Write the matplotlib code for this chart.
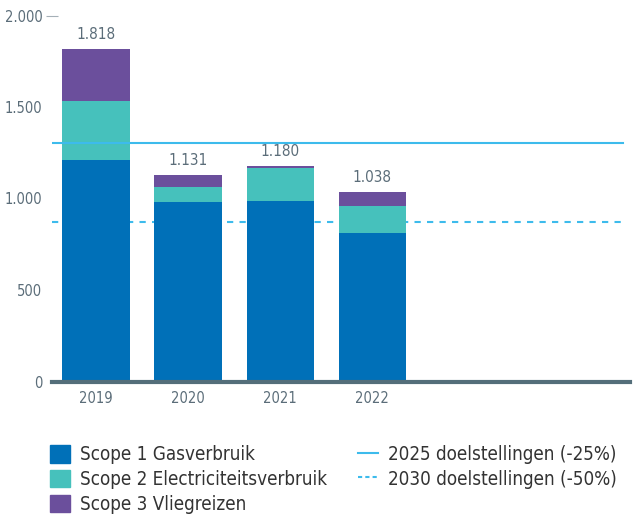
import matplotlib
matplotlib.use("Agg")
import matplotlib.pyplot as plt
import numpy as np
from matplotlib.patches import Patch
from matplotlib.lines import Line2D
from matplotlib.ticker import FuncFormatter

# values (ton CO2)
years = ["2019", "2020", "2021", "2022"]
scope1 = [1210, 981, 986, 811]
scope2 = [323, 82, 180, 148]
scope3 = [285, 68, 14, 79]
totals = [1818, 1131, 1180, 1038]
target_2025 = 1305
target_2030 = 870
series_names = ["Scope 1 Gasverbruik", "Scope 2 Electriciteitsverbruik", "Scope 3 Vliegreizen"]
target_names = ["2025 doelstellingen (-25%)", "2030 doelstellingen (-50%)"]

c_s1 = "#0070b8"
c_s2 = "#46c1bc"
c_s3 = "#6b4f9c"
c_line = "#3dbbec"
c_axis = "#546e7a"
c_text = "#5b6d79"

plt.rcParams["font.family"] = ["DejaVu Sans"]
plt.rcParams["font.stretch"] = "condensed"

def dot_fmt(v, pos=None):
    return f"{int(v):,}".replace(",", ".")

fig = plt.figure(figsize=(6.35, 5.23), dpi=100)
ax = fig.add_axes([52 / 635, 1 - 381.5 / 523, 578 / 635, 366 / 523])

x = np.arange(len(years))
w = 0.73
b1 = ax.bar(x, scope1, w, color=c_s1, zorder=2)
b2 = ax.bar(x, scope2, w, bottom=scope1, color=c_s2, zorder=2)
bottom3 = np.array(scope1) + np.array(scope2)
b3 = ax.bar(x, scope3, w, bottom=bottom3, color=c_s3, zorder=2)
ax.bar_label(b3, labels=[dot_fmt(t) for t in totals], padding=5,
             fontsize=11, color=c_text)

ax.axhline(target_2025, xmin=0, xmax=0.988, color=c_line, lw=1.5, zorder=3)
ax.axhline(target_2030, xmin=0, xmax=0.988, color=c_line, lw=1.5,
           linestyle=(0, (3, 3)), zorder=1)

ax.set_xlim(-0.478, 5.8)
ax.set_ylim(0, 2000)
ax.set_xticks(x)
ax.set_xticklabels(years)
ax.set_yticks([0, 500, 1000, 1500, 2000])
ax.yaxis.set_major_formatter(FuncFormatter(dot_fmt))
ax.yaxis.remove_overlapping_locs = False
ax.set_yticks([2000], minor=True)
ax.tick_params(axis="both", which="major", length=0, labelsize=10.5,
               labelcolor=c_text)
ax.tick_params(axis="y", which="major", pad=7)
ax.tick_params(axis="x", which="major", pad=7)
ax.tick_params(axis="y", which="minor", length=9, direction="inout",
               color="#a5b0b7", width=0.8)

for s in ["top", "right", "left"]:
    ax.spines[s].set_visible(False)
ax.spines["bottom"].set_color(c_axis)
ax.spines["bottom"].set_linewidth(3)
ax.spines["bottom"].set_zorder(4)

handles = [Patch(color=c_s1), Patch(color=c_s2), Patch(color=c_s3),
           Line2D([], [], color=c_line, lw=1.5),
           Line2D([], [], color=c_line, lw=1.5, linestyle=(0, (2, 1.5)))]
labels = series_names + target_names
leg = fig.legend(handles, labels, ncol=2, loc="upper left",
                 bbox_to_anchor=(50 / 635, 1 - 445 / 523), frameon=False,
                 fontsize=13.5, handlelength=1.07, handleheight=1.07,
                 handletextpad=0.53, columnspacing=1.65, labelspacing=0.3,
                 borderpad=0, borderaxespad=0)
for t in leg.get_texts():
    t.set_color("#333333")

fig.savefig("out.png", dpi=100)
